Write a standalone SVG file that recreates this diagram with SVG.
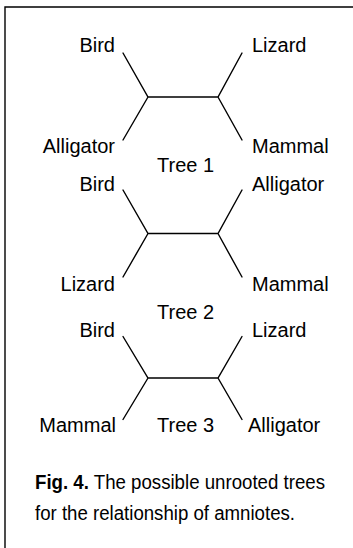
<svg xmlns="http://www.w3.org/2000/svg" width="353" height="548" viewBox="0 0 353 548">
<style>
.lbl{font-family:"Liberation Sans",Arial,sans-serif;font-size:20px;fill:#000}
.r{text-anchor:end}
.br{stroke:#000;stroke-width:1.4;fill:none;stroke-linecap:round}
.cap{font-family:"Liberation Sans",Arial,sans-serif;font-size:19.5px;fill:#000}
</style>
<rect width="353" height="548" fill="#fff"/>
<path d="M5 548 V7 H353" stroke="#000" stroke-width="1.4" fill="none"/>
<g id="connectors">
<path class="br" d="M123 53 L148 97 L218 97 L242 53 M148 97 L123 140 M218 97 L242 140"/>
<path class="br" d="M123 190 L148 233.5 L218 233.5 L242 190 M148 233.5 L123 277 M218 233.5 L242 277"/>
<path class="br" d="M123 336.5 L148 378 L218 378 L242 336.5 M148 378 L123 419.5 M218 378 L242 419.5"/>
</g>
<g id="tree1">
<text class="lbl r" x="115" y="52">Bird</text>
<text class="lbl" x="252" y="52">Lizard</text>
<text class="lbl r" x="115" y="153">Alligator</text>
<text class="lbl" x="252" y="153">Mammal</text>
<text class="lbl" x="157" y="172">Tree 1</text>
</g>
<g id="tree2">
<text class="lbl r" x="115" y="191">Bird</text>
<text class="lbl" x="252" y="191">Alligator</text>
<text class="lbl r" x="115" y="291">Lizard</text>
<text class="lbl" x="252" y="291">Mammal</text>
<text class="lbl" x="157" y="319">Tree 2</text>
</g>
<g id="tree3">
<text class="lbl r" x="115" y="337">Bird</text>
<text class="lbl" x="252" y="337">Lizard</text>
<text class="lbl r" x="116" y="432">Mammal</text>
<text class="lbl" x="248" y="432">Alligator</text>
<text class="lbl" x="157" y="432">Tree 3</text>
</g>
<g id="caption">
<text class="cap" x="35" y="489" textLength="290" lengthAdjust="spacingAndGlyphs"><tspan font-weight="bold">Fig. 4.</tspan> The possible unrooted trees</text>
<text class="cap" x="35" y="520" textLength="260" lengthAdjust="spacingAndGlyphs">for the relationship of amniotes.</text>
</g>
</svg>
